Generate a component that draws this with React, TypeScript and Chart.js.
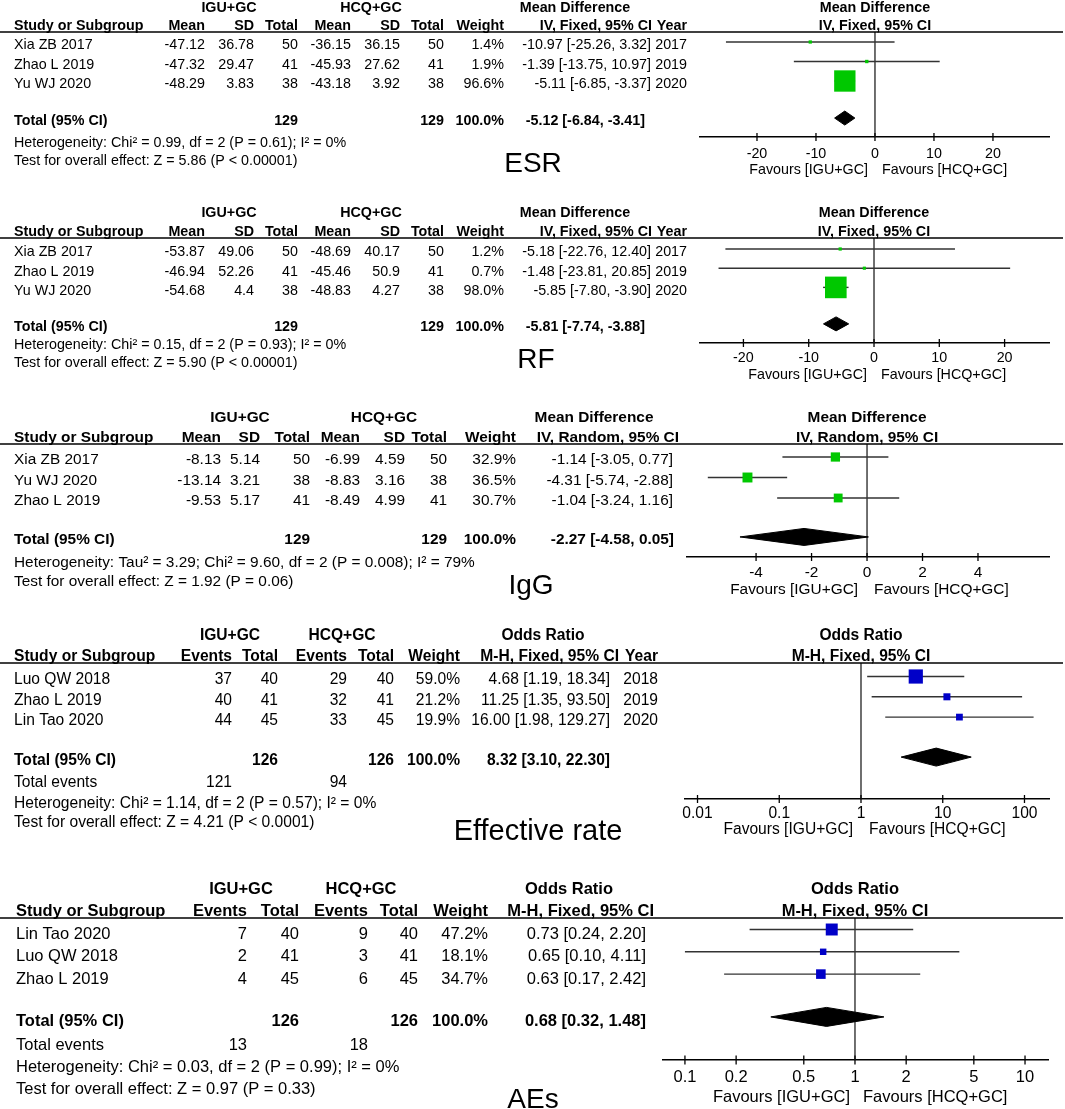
import React, { useEffect, useRef } from "react";
import { Chart, registerables } from "chart.js";

Chart.register(...registerables);

const PAGE_W = 1065;
const PAGE_H = 1109;
const FONT = '"Liberation Sans", Arial, Helvetica, sans-serif';
const GREEN = "#00C800";
const BLUE = "#0000C8";
const LINE = "#333333";

// ---------------- ESR (mean difference, fixed) ----------------
const esrStudies = ["Xia ZB 2017", "Zhao L 2019", "Yu WJ 2020"];
const esrIguMean = [-47.12, -47.32, -48.29];
const esrIguSd = [36.78, 29.47, 3.83];
const esrIguTotal = [50, 41, 38];
const esrHcqMean = [-36.15, -45.93, -43.18];
const esrHcqSd = [36.15, 27.62, 3.92];
const esrHcqTotal = [50, 41, 38];
const esrWeight = [1.4, 1.9, 96.6];
const esrMD = [-10.97, -1.39, -5.11];
const esrLower = [-25.26, -13.75, -6.85];
const esrUpper = [3.32, 10.97, -3.37];
const esrYear = [2017, 2019, 2020];
const esrPooled = [-5.12, -6.84, -3.41];
const esrN = [129, 129];
const esrNotes = [
  "Heterogeneity: Chi\u00b2 = 0.99, df = 2 (P = 0.61); I\u00b2 = 0%",
  "Test for overall effect: Z = 5.86 (P < 0.00001)",
];
const esrTicks = [-20, -10, 0, 10, 20];

// ---------------- RF (mean difference, fixed) ----------------
const rfStudies = ["Xia ZB 2017", "Zhao L 2019", "Yu WJ 2020"];
const rfIguMean = [-53.87, -46.94, -54.68];
const rfIguSd = [49.06, 52.26, 4.4];
const rfIguTotal = [50, 41, 38];
const rfHcqMean = [-48.69, -45.46, -48.83];
const rfHcqSd = [40.17, 50.9, 4.27];
const rfHcqTotal = [50, 41, 38];
const rfWeight = [1.2, 0.7, 98.0];
const rfMD = [-5.18, -1.48, -5.85];
const rfLower = [-22.76, -23.81, -7.8];
const rfUpper = [12.4, 20.85, -3.9];
const rfYear = [2017, 2019, 2020];
const rfPooled = [-5.81, -7.74, -3.88];
const rfN = [129, 129];
const rfNotes = [
  "Heterogeneity: Chi\u00b2 = 0.15, df = 2 (P = 0.93); I\u00b2 = 0%",
  "Test for overall effect: Z = 5.90 (P < 0.00001)",
];
const rfTicks = [-20, -10, 0, 10, 20];

// ---------------- IgG (mean difference, random) ----------------
const igStudies = ["Xia ZB 2017", "Yu WJ 2020", "Zhao L 2019"];
const igIguMean = [-8.13, -13.14, -9.53];
const igIguSd = [5.14, 3.21, 5.17];
const igIguTotal = [50, 38, 41];
const igHcqMean = [-6.99, -8.83, -8.49];
const igHcqSd = [4.59, 3.16, 4.99];
const igHcqTotal = [50, 38, 41];
const igWeight = [32.9, 36.5, 30.7];
const igMD = [-1.14, -4.31, -1.04];
const igLower = [-3.05, -5.74, -3.24];
const igUpper = [0.77, -2.88, 1.16];
const igPooled = [-2.27, -4.58, 0.05];
const igN = [129, 129];
const igNotes = [
  "Heterogeneity: Tau\u00b2 = 3.29; Chi\u00b2 = 9.60, df = 2 (P = 0.008); I\u00b2 = 79%",
  "Test for overall effect: Z = 1.92 (P = 0.06)",
];
const igTicks = [-4, -2, 0, 2, 4];

// ---------------- Effective rate (odds ratio) ----------------
const efStudies = ["Luo QW 2018", "Zhao L 2019", "Lin Tao 2020"];
const efIguEvents = [37, 40, 44];
const efIguTotal = [40, 41, 45];
const efHcqEvents = [29, 32, 33];
const efHcqTotal = [40, 41, 45];
const efWeight = [59.0, 21.2, 19.9];
const efOR = [4.68, 11.25, 16.0];
const efLower = [1.19, 1.35, 1.98];
const efUpper = [18.34, 93.5, 129.27];
const efYear = [2018, 2019, 2020];
const efPooled = [8.32, 3.1, 22.3];
const efN = [126, 126];
const efEvents = [121, 94];
const efNotes = [
  "Heterogeneity: Chi\u00b2 = 1.14, df = 2 (P = 0.57); I\u00b2 = 0%",
  "Test for overall effect: Z = 4.21 (P < 0.0001)",
];
const efTicks = [0.01, 0.1, 1, 10, 100];

// ---------------- AEs (odds ratio) ----------------
const aeStudies = ["Lin Tao 2020", "Luo QW 2018", "Zhao L 2019"];
const aeIguEvents = [7, 2, 4];
const aeIguTotal = [40, 41, 45];
const aeHcqEvents = [9, 3, 6];
const aeHcqTotal = [40, 41, 45];
const aeWeight = [47.2, 18.1, 34.7];
const aeOR = [0.73, 0.65, 0.63];
const aeLower = [0.24, 0.1, 0.17];
const aeUpper = [2.2, 4.11, 2.42];
const aePooled = [0.68, 0.32, 1.48];
const aeN = [126, 126];
const aeEvents = [13, 18];
const aeNotes = [
  "Heterogeneity: Chi\u00b2 = 0.03, df = 2 (P = 0.99); I\u00b2 = 0%",
  "Test for overall effect: Z = 0.97 (P = 0.33)",
];
const aeTicks = [0.1, 0.2, 0.5, 1, 2, 5, 10];

const FAVOURS = ["Favours [IGU+GC]", "Favours [HCQ+GC]"];
const GROUPS_MD = ["IGU+GC", "HCQ+GC", "Mean Difference"];
const GROUPS_OR = ["IGU+GC", "HCQ+GC", "Odds Ratio"];

// ---------------- helpers ----------------
interface Col {
  header: string;
  x: number;
  hx?: number;
  tx?: number;
  cells: string[];
  total?: string;
  events?: string;
}

const num = (a: number[]) => a.map((v) => String(v));
const pct = (a: number[]) => a.map((v) => v.toFixed(1) + "%");
const ciText = (e: number, l: number, h: number) =>
  `${e.toFixed(2)} [${l.toFixed(2)}, ${h.toFixed(2)}]`;
const ciCells = (e: number[], l: number[], h: number[]) =>
  e.map((v, i) => ciText(v, l[i], h[i]));

function mdCols(
  m1: number[], s1: number[], n1: number[],
  m2: number[], s2: number[], n2: number[],
  w: number[], e: number[], l: number[], h: number[],
  pooled: number[], N: number[], ciHeader: string,
  year: number[] | null, xs: number[], ciHx: number, ciTx: number
): Col[] {
  const cols: Col[] = [
    { header: "Mean", x: xs[0], cells: num(m1) },
    { header: "SD", x: xs[1], cells: num(s1) },
    { header: "Total", x: xs[2], cells: num(n1), total: String(N[0]) },
    { header: "Mean", x: xs[3], cells: num(m2) },
    { header: "SD", x: xs[4], cells: num(s2) },
    { header: "Total", x: xs[5], cells: num(n2), total: String(N[1]) },
    { header: "Weight", x: xs[6], cells: pct(w), total: "100.0%" },
    {
      header: ciHeader, x: xs[7], hx: ciHx, tx: ciTx,
      cells: ciCells(e, l, h), total: ciText(pooled[0], pooled[1], pooled[2]),
    },
  ];
  if (year) cols.push({ header: "Year", x: xs[8], cells: num(year) });
  return cols;
}

function orCols(
  ev1: number[], n1: number[], ev2: number[], n2: number[],
  w: number[], e: number[], l: number[], h: number[],
  pooled: number[], N: number[], events: number[],
  year: number[] | null, xs: number[], ciHx: number, ciTx: number
): Col[] {
  const cols: Col[] = [
    { header: "Events", x: xs[0], cells: num(ev1), events: String(events[0]) },
    { header: "Total", x: xs[1], cells: num(n1), total: String(N[0]) },
    { header: "Events", x: xs[2], cells: num(ev2), events: String(events[1]) },
    { header: "Total", x: xs[3], cells: num(n2), total: String(N[1]) },
    { header: "Weight", x: xs[4], cells: pct(w), total: "100.0%" },
    {
      header: "M-H, Fixed, 95% CI", x: xs[5], hx: ciHx, tx: ciTx,
      cells: ciCells(e, l, h), total: ciText(pooled[0], pooled[1], pooled[2]),
    },
  ];
  if (year) cols.push({ header: "Year", x: xs[6], cells: num(year) });
  return cols;
}

interface PanelSpec {
  studies: string[];
  cols: Col[];
  groups: string[];
  notes: string[];
  plotTitle: string[];
  est: number[];
  lo: number[];
  hi: number[];
  weight: number[];
  pooled: number[];
  tickValues: number[];
  nullValue: number;
  log: boolean;
  label: string;
  squareColor: string;
  // layout
  font: number;
  studyX: number;
  groupX: number[];
  hdr1Y: number;
  hdr2Y: number;
  lineY: number;
  firstRowY: number;
  rowH: number;
  textDy: number;
  totalIdx: number;
  eventsY?: number;
  noteY: number[];
  axisLeft: number;
  axisRight: number;
  axisY: number;
  xMin: number;
  xMax: number;
  tickPad: number;
  tickHalf: number;
  favoursY: number;
  favGap: number[];
  diamondHalfPx: number;
  labelX: number;
  labelBase: number;
  labelSize: number;
}

const PANELS: PanelSpec[] = [
  {
    studies: esrStudies,
    cols: mdCols(esrIguMean, esrIguSd, esrIguTotal, esrHcqMean, esrHcqSd, esrHcqTotal,
      esrWeight, esrMD, esrLower, esrUpper, esrPooled, esrN, "IV, Fixed, 95% CI", esrYear,
      [205, 254, 298, 351, 400, 444, 504, 651, 687], 652, 645),
    groups: GROUPS_MD, notes: esrNotes, plotTitle: ["Mean Difference", "IV, Fixed, 95% CI"],
    est: esrMD, lo: esrLower, hi: esrUpper, weight: esrWeight, pooled: esrPooled,
    tickValues: esrTicks, nullValue: 0, log: false, label: "ESR", squareColor: GREEN,
    font: 14.3, studyX: 14, groupX: [229, 371, 575], hdr1Y: 8, hdr2Y: 26, lineY: 32,
    firstRowY: 42, rowH: 19.5, textDy: 3.5, totalIdx: 3.9, noteY: [143, 161],
    axisLeft: 700, axisRight: 1049, axisY: 137, xMin: -29.66, xMax: 29.5,
    tickPad: 8, tickHalf: 4, favoursY: 170, favGap: [7, 7], diamondHalfPx: 7,
    labelX: 533, labelBase: 172, labelSize: 28,
  },
  {
    studies: rfStudies,
    cols: mdCols(rfIguMean, rfIguSd, rfIguTotal, rfHcqMean, rfHcqSd, rfHcqTotal,
      rfWeight, rfMD, rfLower, rfUpper, rfPooled, rfN, "IV, Fixed, 95% CI", rfYear,
      [205, 254, 298, 351, 400, 444, 504, 651, 687], 652, 645),
    groups: GROUPS_MD, notes: rfNotes, plotTitle: ["Mean Difference", "IV, Fixed, 95% CI"],
    est: rfMD, lo: rfLower, hi: rfUpper, weight: rfWeight, pooled: rfPooled,
    tickValues: rfTicks, nullValue: 0, log: false, label: "RF", squareColor: GREEN,
    font: 14.3, studyX: 14, groupX: [229, 371, 575], hdr1Y: 213, hdr2Y: 232, lineY: 238,
    firstRowY: 249, rowH: 19.2, textDy: 3.5, totalIdx: 3.9, noteY: [345, 363],
    axisLeft: 700, axisRight: 1049, axisY: 343, xMin: -26.65, xMax: 26.8,
    tickPad: 6.5, tickHalf: 4, favoursY: 375, favGap: [7, 7], diamondHalfPx: 7,
    labelX: 536, labelBase: 368, labelSize: 28,
  },
  {
    studies: igStudies,
    cols: mdCols(igIguMean, igIguSd, igIguTotal, igHcqMean, igHcqSd, igHcqTotal,
      igWeight, igMD, igLower, igUpper, igPooled, igN, "IV, Random, 95% CI", null,
      [221, 260, 310, 360, 405, 447, 516, 673], 679, 674),
    groups: GROUPS_MD, notes: igNotes, plotTitle: ["Mean Difference", "IV, Random, 95% CI"],
    est: igMD, lo: igLower, hi: igUpper, weight: igWeight, pooled: igPooled,
    tickValues: igTicks, nullValue: 0, log: false, label: "IgG", squareColor: GREEN,
    font: 15.4, studyX: 14, groupX: [240, 384, 594], hdr1Y: 418, hdr2Y: 438, lineY: 444,
    firstRowY: 457, rowH: 20.5, textDy: 3, totalIdx: 3.9, noteY: [563, 582],
    axisLeft: 687, axisRight: 1049, axisY: 557, xMin: -6.49, xMax: 6.56,
    tickPad: 6.5, tickHalf: 4, favoursY: 590, favGap: [9, 7], diamondHalfPx: 8.5,
    labelX: 531, labelBase: 594, labelSize: 28,
  },
  {
    studies: efStudies,
    cols: orCols(efIguEvents, efIguTotal, efHcqEvents, efHcqTotal, efWeight, efOR,
      efLower, efUpper, efPooled, efN, efEvents, efYear,
      [232, 278, 347, 394, 460, 610, 658], 619, 610),
    groups: GROUPS_OR, notes: efNotes, plotTitle: ["Odds Ratio", "M-H, Fixed, 95% CI"],
    est: efOR, lo: efLower, hi: efUpper, weight: efWeight, pooled: efPooled,
    tickValues: efTicks, nullValue: 1, log: true, label: "Effective rate", squareColor: BLUE,
    font: 15.6, studyX: 14, groupX: [230, 342, 543], hdr1Y: 636, hdr2Y: 657, lineY: 663,
    firstRowY: 676.5, rowH: 20.3, textDy: 3.5, totalIdx: 3.97, eventsY: 783, noteY: [804, 823],
    axisLeft: 685, axisRight: 1049, axisY: 799, xMin: 0.00703, xMax: 199.5,
    tickPad: 5, tickHalf: 4, favoursY: 830, favGap: [8, 8], diamondHalfPx: 9,
    labelX: 538, labelBase: 840, labelSize: 29,
  },
  {
    studies: aeStudies,
    cols: orCols(aeIguEvents, aeIguTotal, aeHcqEvents, aeHcqTotal, aeWeight, aeOR,
      aeLower, aeUpper, aePooled, aeN, aeEvents, null,
      [247, 299, 368, 418, 488, 646], 654, 646),
    groups: GROUPS_OR, notes: aeNotes, plotTitle: ["Odds Ratio", "M-H, Fixed, 95% CI"],
    est: aeOR, lo: aeLower, hi: aeUpper, weight: aeWeight, pooled: aePooled,
    tickValues: aeTicks, nullValue: 1, log: true, label: "AEs", squareColor: BLUE,
    font: 16.5, studyX: 16, groupX: [241, 361, 569], hdr1Y: 889, hdr2Y: 911, lineY: 918,
    firstRowY: 929.5, rowH: 22.3, textDy: 5, totalIdx: 3.92, eventsY: 1045, noteY: [1067, 1089],
    axisLeft: 663, axisRight: 1048, axisY: 1060, xMin: 0.0743, xMax: 13.65,
    tickPad: 8, tickHalf: 4.5, favoursY: 1097, favGap: [5, 8], diamondHalfPx: 9.5,
    labelX: 533, labelBase: 1108, labelSize: 28,
  },
];

const SCALE_H = 30;

function tablePlugin(p: PanelSpec) {
  return {
    id: "forestTable",
    afterDraw(chart: any) {
      const ctx: CanvasRenderingContext2D = chart.ctx;
      const xs = chart.scales.x;
      const ys = chart.scales.y;
      const rowY = (v: number) => ys.getPixelForValue(v) + p.textDy;
      const font = (bold: boolean, size = p.font) => {
        ctx.font = `${bold ? "bold " : ""}${size}px ${FONT}`;
      };
      ctx.save();
      ctx.fillStyle = "#000";
      ctx.textBaseline = "middle";

      // header rule
      ctx.strokeStyle = "#000";
      ctx.lineWidth = 1.5;
      ctx.beginPath();
      ctx.moveTo(0, p.lineY);
      ctx.lineTo(1063, p.lineY);
      ctx.stroke();

      // headers
      font(true);
      ctx.textAlign = "center";
      p.groups.forEach((g, i) => ctx.fillText(g, p.groupX[i], p.hdr1Y));
      ctx.textAlign = "left";
      ctx.fillText("Study or Subgroup", p.studyX, p.hdr2Y);
      ctx.textAlign = "right";
      p.cols.forEach((c) => ctx.fillText(c.header, c.hx ?? c.x, p.hdr2Y));

      // study rows
      font(false);
      p.studies.forEach((s, i) => {
        const y = rowY(i);
        ctx.textAlign = "left";
        ctx.fillText(s, p.studyX, y);
        ctx.textAlign = "right";
        p.cols.forEach((c) => ctx.fillText(c.cells[i], c.x, y));
      });

      // total row
      font(true);
      const ty = rowY(p.totalIdx);
      ctx.textAlign = "left";
      ctx.fillText("Total (95% CI)", p.studyX, ty);
      ctx.textAlign = "right";
      p.cols.forEach((c) => {
        if (c.total) ctx.fillText(c.total, c.tx ?? c.x, ty);
      });

      font(false);
      if (p.eventsY !== undefined) {
        ctx.textAlign = "left";
        ctx.fillText("Total events", p.studyX, p.eventsY);
        ctx.textAlign = "right";
        p.cols.forEach((c) => {
          if (c.events) ctx.fillText(c.events, c.x, p.eventsY as number);
        });
      }
      ctx.textAlign = "left";
      p.notes.forEach((n, i) => ctx.fillText(n, p.studyX, p.noteY[i]));

      // plot headers
      const nx = xs.getPixelForValue(p.nullValue);
      font(true);
      ctx.textAlign = "center";
      ctx.fillText(p.plotTitle[0], nx, p.hdr1Y);
      ctx.fillText(p.plotTitle[1], nx, p.hdr2Y);

      // crossing tick marks
      ctx.strokeStyle = "#000";
      ctx.lineWidth = 1.3;
      xs.ticks.forEach((t: any) => {
        const x = xs.getPixelForValue(t.value);
        ctx.beginPath();
        ctx.moveTo(x, p.axisY - p.tickHalf);
        ctx.lineTo(x, p.axisY + p.tickHalf);
        ctx.stroke();
      });

      // favours labels
      font(false);
      ctx.textAlign = "right";
      ctx.fillText(FAVOURS[0], nx - p.favGap[0], p.favoursY);
      ctx.textAlign = "left";
      ctx.fillText(FAVOURS[1], nx + p.favGap[1], p.favoursY);

      // outcome label
      ctx.font = `${p.labelSize}px ${FONT}`;
      ctx.textAlign = "center";
      ctx.textBaseline = "alphabetic";
      ctx.fillText(p.label, p.labelX, p.labelBase);
      ctx.restore();
    },
  };
}

function buildConfig(p: PanelSpec): any {
  const yMin = (p.lineY - p.firstRowY) / p.rowH;
  const yMax = (p.axisY - p.firstRowY) / p.rowH;
  const dh = p.diamondHalfPx / p.rowH;
  const t = p.totalIdx;
  const [pe, pl, ph] = p.pooled;
  const sq = p.weight.map((w) => (3 + 0.19 * w) / (2 * Math.SQRT1_2));

  const datasets: any[] = [];
  datasets.push({
    label: "study",
    data: p.est.map((x, i) => ({ x, y: i })),
    showLine: false,
    pointStyle: "rect",
    pointRadius: sq,
    pointHoverRadius: sq,
    pointBackgroundColor: p.squareColor,
    pointBorderColor: p.squareColor,
    pointBorderWidth: 0,
    backgroundColor: p.squareColor,
    borderWidth: 0,
    order: 0,
  });
  datasets.push({
    label: "pooled",
    data: [
      { x: pl, y: t },
      { x: pe, y: t - dh },
      { x: ph, y: t },
      { x: pe, y: t + dh },
      { x: pl, y: t },
    ],
    showLine: true,
    fill: "shape",
    backgroundColor: "#000",
    borderColor: "#000",
    borderWidth: 1,
    pointRadius: 0,
    pointHoverRadius: 0,
    tension: 0,
    order: 1,
  });
  p.lo.forEach((l, i) => {
    datasets.push({
      label: "ci" + i,
      data: [
        { x: l, y: i },
        { x: p.hi[i], y: i },
      ],
      showLine: true,
      borderColor: LINE,
      borderWidth: 1.4,
      pointRadius: 0,
      pointHoverRadius: 0,
      fill: false,
      order: 2,
    });
  });
  datasets.push({
    label: "null",
    data: [
      { x: p.nullValue, y: yMin },
      { x: p.nullValue, y: yMax },
    ],
    showLine: true,
    borderColor: LINE,
    borderWidth: 1.4,
    pointRadius: 0,
    pointHoverRadius: 0,
    fill: false,
    order: 3,
  });

  return {
    type: "scatter",
    data: { datasets },
    plugins: [tablePlugin(p)],
    options: {
      animation: false,
      responsive: false,
      devicePixelRatio: 1,
      events: [],
      layout: {
        padding: {
          left: p.axisLeft,
          right: PAGE_W - p.axisRight,
          top: p.lineY,
          bottom: PAGE_H - p.axisY - SCALE_H,
        },
      },
      plugins: {
        legend: { display: false },
        tooltip: { enabled: false },
        title: { display: false },
      },
      scales: {
        x: {
          type: p.log ? "logarithmic" : "linear",
          position: "bottom",
          min: p.xMin,
          max: p.xMax,
          bounds: "data",
          afterBuildTicks: (s: any) => {
            s.ticks = p.tickValues.map((v) => ({ value: v }));
          },
          afterFit: (s: any) => {
            s.height = SCALE_H;
          },
          grid: { display: false, drawTicks: false },
          border: { display: true, color: "#000", width: 1.5 },
          ticks: {
            autoSkip: false,
            maxRotation: 0,
            minRotation: 0,
            padding: p.tickPad,
            color: "#000",
            font: { family: FONT, size: p.font },
            callback: (v: any) => String(v),
          },
        },
        y: {
          type: "linear",
          display: false,
          reverse: true,
          min: yMin,
          max: yMax,
          bounds: "data",
        },
      },
    },
  };
}

function ForestPanel({ spec }: { spec: PanelSpec }) {
  const ref = useRef<HTMLCanvasElement>(null);
  useEffect(() => {
    if (!ref.current) return;
    const chart = new Chart(ref.current, buildConfig(spec));
    return () => chart.destroy();
  }, [spec]);
  return (
    <canvas
      ref={ref}
      width={PAGE_W}
      height={PAGE_H}
      style={{ position: "absolute", left: 0, top: 0, width: PAGE_W, height: PAGE_H }}
    />
  );
}

export default function App() {
  return (
    <div
      style={{
        position: "absolute",
        left: 0,
        top: 0,
        width: PAGE_W,
        height: PAGE_H,
        overflow: "hidden",
        background: "#fff",
      }}
    >
      {PANELS.map((p, i) => (
        <ForestPanel key={i} spec={p} />
      ))}
    </div>
  );
}
